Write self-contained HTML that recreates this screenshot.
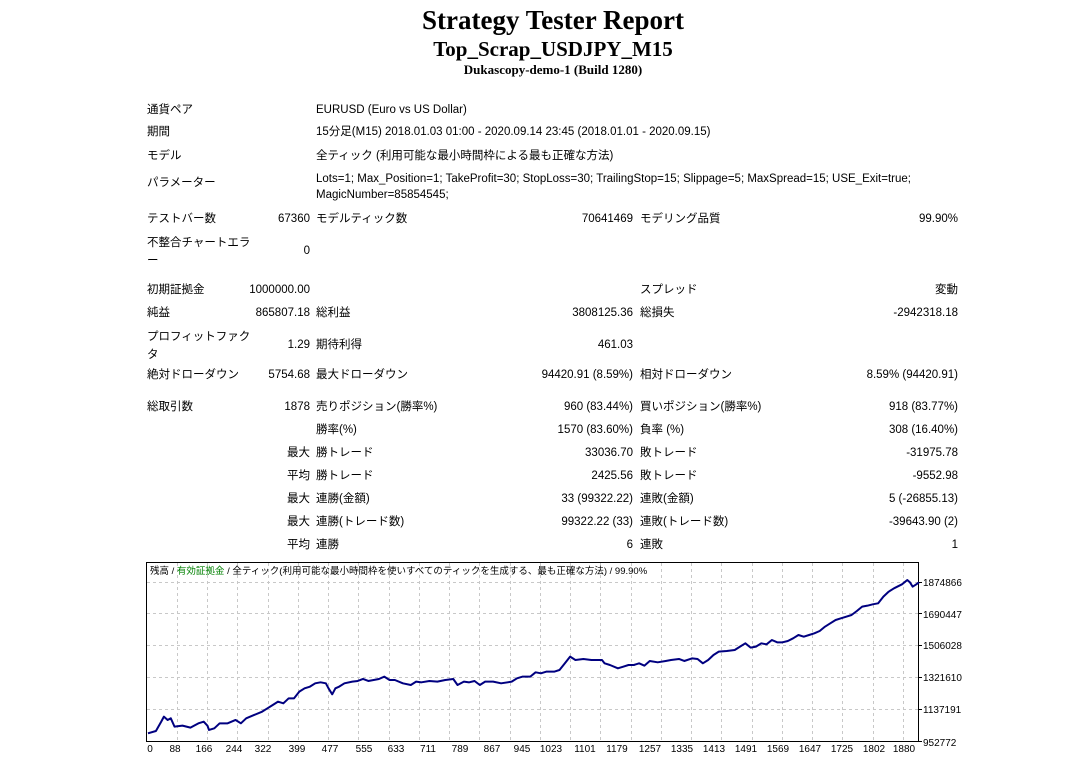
<!DOCTYPE html>
<html><head><meta charset="utf-8"><style>
body{margin:0;width:1067px;height:758px;background:#fff;position:relative;overflow:hidden;font-family:"Liberation Sans","Noto Sans CJK JP",sans-serif;font-size:11.5px;color:#000}
.t{position:absolute;white-space:nowrap;line-height:16px}
.h{position:absolute;left:0;width:1106px;text-align:center;font-family:"Liberation Serif",serif;font-weight:bold;white-space:nowrap}
</style></head><body>
<div class="h" style="top:5px;font-size:27px">Strategy Tester Report</div>
<div class="h" style="top:37px;font-size:21px">Top_Scrap_USDJPY_M15</div>
<div class="h" style="top:62px;font-size:13px">Dukascopy-demo-1 (Build 1280)</div>

<div class="t" style="left:147px;top:102px">通貨ペア</div>
<div class="t" style="left:316px;top:102px">EURUSD (Euro vs US Dollar)</div>
<div class="t" style="left:147px;top:124px">期間</div>
<div class="t" style="left:316px;top:124px">15分足(M15) 2018.01.03 01:00 - 2020.09.14 23:45 (2018.01.01 - 2020.09.15)</div>
<div class="t" style="left:147px;top:148px">モデル</div>
<div class="t" style="left:316px;top:148px">全ティック (利用可能な最小時間枠による最も正確な方法)</div>
<div class="t" style="left:147px;top:175px">パラメーター</div>
<div class="t" style="left:316px;top:171px">Lots=1; Max_Position=1; TakeProfit=30; StopLoss=30; TrailingStop=15; Slippage=5; MaxSpread=15; USE_Exit=true;<br>MagicNumber=85854545;</div>

<div class="t" style="left:147px;top:211px">テストバー数</div>
<div class="t" style="right:757px;top:211px">67360</div>
<div class="t" style="left:316px;top:211px">モデルティック数</div>
<div class="t" style="right:434px;top:211px">70641469</div>
<div class="t" style="left:640px;top:211px">モデリング品質</div>
<div class="t" style="right:109px;top:211px">99.90%</div>
<div class="t" style="left:147px;top:234px;line-height:18px">不整合チャートエラ<br>ー</div>
<div class="t" style="right:757px;top:243px">0</div>

<div class="t" style="left:147px;top:282px">初期証拠金</div>
<div class="t" style="right:757px;top:282px">1000000.00</div>
<div class="t" style="left:640px;top:282px">スプレッド</div>
<div class="t" style="right:109px;top:282px">変動</div>

<div class="t" style="left:147px;top:305px">純益</div>
<div class="t" style="right:757px;top:305px">865807.18</div>
<div class="t" style="left:316px;top:305px">総利益</div>
<div class="t" style="right:434px;top:305px">3808125.36</div>
<div class="t" style="left:640px;top:305px">総損失</div>
<div class="t" style="right:109px;top:305px">-2942318.18</div>

<div class="t" style="left:147px;top:328px;line-height:18px">プロフィットファク<br>タ</div>
<div class="t" style="right:757px;top:337px">1.29</div>
<div class="t" style="left:316px;top:337px">期待利得</div>
<div class="t" style="right:434px;top:337px">461.03</div>

<div class="t" style="left:147px;top:367px">絶対ドローダウン</div>
<div class="t" style="right:757px;top:367px">5754.68</div>
<div class="t" style="left:316px;top:367px">最大ドローダウン</div>
<div class="t" style="right:434px;top:367px">94420.91 (8.59%)</div>
<div class="t" style="left:640px;top:367px">相対ドローダウン</div>
<div class="t" style="right:109px;top:367px">8.59% (94420.91)</div>

<div class="t" style="left:147px;top:399px">総取引数</div>
<div class="t" style="right:757px;top:399px">1878</div>
<div class="t" style="left:316px;top:399px">売りポジション(勝率%)</div>
<div class="t" style="right:434px;top:399px">960 (83.44%)</div>
<div class="t" style="left:640px;top:399px">買いポジション(勝率%)</div>
<div class="t" style="right:109px;top:399px">918 (83.77%)</div>

<div class="t" style="left:316px;top:422px">勝率(%)</div>
<div class="t" style="right:434px;top:422px">1570 (83.60%)</div>
<div class="t" style="left:640px;top:422px">負率 (%)</div>
<div class="t" style="right:109px;top:422px">308 (16.40%)</div>

<div class="t" style="right:757px;top:445px">最大</div>
<div class="t" style="left:316px;top:445px">勝トレード</div>
<div class="t" style="right:434px;top:445px">33036.70</div>
<div class="t" style="left:640px;top:445px">敗トレード</div>
<div class="t" style="right:109px;top:445px">-31975.78</div>

<div class="t" style="right:757px;top:468px">平均</div>
<div class="t" style="left:316px;top:468px">勝トレード</div>
<div class="t" style="right:434px;top:468px">2425.56</div>
<div class="t" style="left:640px;top:468px">敗トレード</div>
<div class="t" style="right:109px;top:468px">-9552.98</div>

<div class="t" style="right:757px;top:491px">最大</div>
<div class="t" style="left:316px;top:491px">連勝(金額)</div>
<div class="t" style="right:434px;top:491px">33 (99322.22)</div>
<div class="t" style="left:640px;top:491px">連敗(金額)</div>
<div class="t" style="right:109px;top:491px">5 (-26855.13)</div>

<div class="t" style="right:757px;top:514px">最大</div>
<div class="t" style="left:316px;top:514px">連勝(トレード数)</div>
<div class="t" style="right:434px;top:514px">99322.22 (33)</div>
<div class="t" style="left:640px;top:514px">連敗(トレード数)</div>
<div class="t" style="right:109px;top:514px">-39643.90 (2)</div>

<div class="t" style="right:757px;top:537px">平均</div>
<div class="t" style="left:316px;top:537px">連勝</div>
<div class="t" style="right:434px;top:537px">6</div>
<div class="t" style="left:640px;top:537px">連敗</div>
<div class="t" style="right:109px;top:537px">1</div>

<svg style="position:absolute;left:0;top:0" width="1067" height="758">
<g stroke="#c8c8c8" stroke-dasharray="3,3" stroke-width="1">
<line x1="147" y1="582.5" x2="918" y2="582.5"/><line x1="147" y1="613.5" x2="918" y2="613.5"/><line x1="147" y1="645.5" x2="918" y2="645.5"/><line x1="147" y1="677.5" x2="918" y2="677.5"/><line x1="147" y1="709.5" x2="918" y2="709.5"/>
<line x1="177.5" y1="563" x2="177.5" y2="741"/><line x1="207.5" y1="563" x2="207.5" y2="741"/><line x1="237.5" y1="563" x2="237.5" y2="741"/><line x1="268.5" y1="563" x2="268.5" y2="741"/><line x1="298.5" y1="563" x2="298.5" y2="741"/><line x1="328.5" y1="563" x2="328.5" y2="741"/><line x1="358.5" y1="563" x2="358.5" y2="741"/><line x1="389.5" y1="563" x2="389.5" y2="741"/><line x1="419.5" y1="563" x2="419.5" y2="741"/><line x1="449.5" y1="563" x2="449.5" y2="741"/><line x1="479.5" y1="563" x2="479.5" y2="741"/><line x1="510.5" y1="563" x2="510.5" y2="741"/><line x1="540.5" y1="563" x2="540.5" y2="741"/><line x1="570.5" y1="563" x2="570.5" y2="741"/><line x1="600.5" y1="563" x2="600.5" y2="741"/><line x1="631.5" y1="563" x2="631.5" y2="741"/><line x1="661.5" y1="563" x2="661.5" y2="741"/><line x1="691.5" y1="563" x2="691.5" y2="741"/><line x1="721.5" y1="563" x2="721.5" y2="741"/><line x1="752.5" y1="563" x2="752.5" y2="741"/><line x1="782.5" y1="563" x2="782.5" y2="741"/><line x1="812.5" y1="563" x2="812.5" y2="741"/><line x1="842.5" y1="563" x2="842.5" y2="741"/><line x1="873.5" y1="563" x2="873.5" y2="741"/><line x1="903.5" y1="563" x2="903.5" y2="741"/>
</g>
<rect x="146.5" y="562.5" width="772" height="179" fill="none" stroke="#000" stroke-width="1"/>
<g stroke="#000"><line x1="918" y1="582.5" x2="922" y2="582.5"/><line x1="918" y1="613.5" x2="922" y2="613.5"/><line x1="918" y1="645.5" x2="922" y2="645.5"/><line x1="918" y1="677.5" x2="922" y2="677.5"/><line x1="918" y1="709.5" x2="922" y2="709.5"/><line x1="918" y1="741.5" x2="922" y2="741.5"/></g>
<g transform="translate(140,555) scale(0.531,0.3333)">
<polyline fill="none" stroke="#000080" stroke-width="2" vector-effect="non-scaling-stroke" stroke-linejoin="round" points="15,535 30,528 40,500 45,485 52,495 58,490 65,515 80,512 95,518 110,505 120,500 127,512 130,525 140,520 150,505 165,505 180,495 190,505 200,490 215,480 230,470 240,460 250,450 260,440 270,445 280,430 290,430 300,410 310,400 320,395 330,385 340,382 350,385 355,400 362,418 368,400 375,395 385,385 400,380 410,378 420,372 430,378 440,375 450,372 460,365 470,375 480,375 495,385 510,390 520,380 530,382 545,378 560,380 575,375 590,372 598,390 610,380 620,382 630,378 640,390 650,380 665,380 680,385 700,380 710,370 720,365 735,365 745,352 755,355 765,350 780,350 790,345 800,325 810,305 820,315 835,312 850,315 870,315 875,325 885,330 900,340 910,335 920,330 930,330 940,325 950,332 960,318 975,322 990,318 1000,315 1015,312 1025,318 1040,310 1050,312 1060,325 1070,315 1080,300 1090,290 1105,288 1120,285 1130,275 1140,265 1150,278 1160,275 1170,265 1180,268 1190,255 1200,262 1210,262 1220,258 1230,250 1240,240 1250,245 1260,240 1270,235 1280,228 1290,215 1300,205 1310,195 1320,190 1330,185 1340,180 1350,168 1360,155 1370,152 1380,148 1390,145 1400,125 1410,110 1420,100 1435,88 1445,75 1450,82 1455,95 1462,88 1467,82"/>
</g>
<g font-family="Liberation Sans, sans-serif" font-size="10" fill="#000">
<text x="923" y="586">1874866</text><text x="923" y="618">1690447</text><text x="923" y="649">1506028</text><text x="923" y="681">1321610</text><text x="923" y="713">1137191</text><text x="923" y="746">952772</text>
<g text-anchor="middle">
<text x="150" y="752">0</text><text x="175" y="752">88</text><text x="204" y="752">166</text><text x="234" y="752">244</text><text x="263" y="752">322</text><text x="297" y="752">399</text><text x="330" y="752">477</text><text x="364" y="752">555</text><text x="396" y="752">633</text><text x="428" y="752">711</text><text x="460" y="752">789</text><text x="492" y="752">867</text><text x="522" y="752">945</text><text x="551" y="752">1023</text><text x="585" y="752">1101</text><text x="617" y="752">1179</text><text x="650" y="752">1257</text><text x="682" y="752">1335</text><text x="714" y="752">1413</text><text x="746" y="752">1491</text><text x="778" y="752">1569</text><text x="810" y="752">1647</text><text x="842" y="752">1725</text><text x="874" y="752">1802</text><text x="904" y="752">1880</text>
</g>
<text x="150" y="574" font-family="Liberation Sans, Noto Sans CJK JP, sans-serif" font-size="9.5">残高 / <tspan fill="#008000">有効証拠金</tspan> / 全ティック(利用可能な最小時間枠を使いすべてのティックを生成する、最も正確な方法) / 99.90%</text>
</g>
</svg>
</body></html>
